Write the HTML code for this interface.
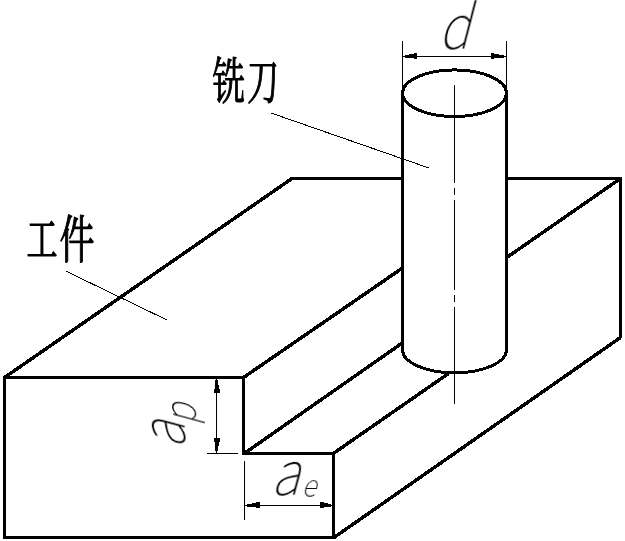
<!DOCTYPE html>
<html lang="zh-CN">
<head>
<meta charset="utf-8">
<title>铣刀 工件</title>
<style>
html,body{margin:0;padding:0;background:#fff;}
body{width:625px;height:541px;overflow:hidden;}
svg{display:block;}
.k{fill:none;stroke:#000;stroke-width:3;stroke-linecap:butt;stroke-linejoin:miter;shape-rendering:crispEdges;}
.d{stroke-width:3.5;}
.t{fill:none;stroke:#000;stroke-width:1;shape-rendering:crispEdges;}
.ar{fill:#000;stroke:none;shape-rendering:crispEdges;}
.cjk{font-family:"Liberation Serif","Noto Serif CJK SC","Noto Sans CJK SC",serif;font-weight:400;fill:#000;stroke:#000;stroke-width:1.2;stroke-linejoin:round;}
.lat{font-family:"Noto Sans CJK SC","DejaVu Sans Light","Liberation Sans",sans-serif;font-weight:100;fill:#000;}
</style>
</head>
<body>
<svg width="625" height="541" viewBox="0 0 625 541">
<rect width="625" height="541" fill="#fff"/>

<!-- workpiece -->
<g class="k d">
  <path d="M4.5 377.5 L292 178.5"/>
  <path d="M620.5 337.5 L334 537.5"/>
  <path d="M243.5 377.5 L402.5 268"/>
  <path d="M243.5 454 L402.5 342.8"/>
  <path d="M334 453 L448.5 373.5"/>
  <path d="M620.5 178.5 L506.5 257.7"/>
</g>
<g class="k">
  <path d="M243.5 377.5 H4.5 V537.5 H333.5 V453 H243.5 Z"/>
  <path d="M290.5 178.5 H402.5"/>
  <path d="M506.5 178.5 H620.5 V338"/>
</g>

<!-- cutter -->
<g class="k">
  <ellipse cx="454.5" cy="93.2" rx="52" ry="23.3"/>
  <path d="M402.5 93.2 V349.8 A52 23 0 0 0 506.5 349.8 V93.2"/>
</g>

<!-- centre line -->
<path class="t" d="M454.5 85 V182.5 M454.5 188 V195 M454.5 200 V290 M454.5 295 V302 M454.5 307 V404"/>

<!-- dimension d -->
<path class="t" d="M402.5 41 V92 M506.5 41 V92 M402 56.5 H507"/>
<path class="ar" d="M405 55H409V58H405Z M409 54H414V58H409Z M414 53H417V59H414Z M491 53H494V59H491Z M494 54H499V58H494Z M499 55H504V58H499Z"/>

<!-- dimension ap -->
<path class="t" d="M216.5 379 V454 M207 453.5 H238"/>
<path class="ar" d="M215 380H218V385H215Z M215 385H219V389H215Z M214 389H220V393H214Z M214 438H220V442H214Z M215 442H219V446H215Z M215 446H218V451H215Z"/>

<!-- dimension ae -->
<path class="t" d="M244.5 461 V520 M244 505.5 H333"/>
<path class="ar" d="M247 504H252V507H247Z M252 503H256V507H252Z M256 502H260V508H256Z M320 502H324V508H320Z M324 503H328V507H324Z M328 504H331V507H328Z"/>

<!-- leaders -->
<path class="t" d="M271 113 L429 168"/>
<path class="t" d="M66 271.2 L167 320"/>

<!-- labels -->
<g opacity="0.999">
<text class="cjk" transform="scale(0.66 1)"><tspan x="321.667" y="99.2" font-size="49.6">铣</tspan><tspan x="374.545" y="98.6" font-size="47.7">刀</tspan></text>
<text class="cjk" transform="scale(0.69 1)"><tspan x="38.551" y="255.8" font-size="45">工</tspan><tspan x="86.087" y="258" font-size="50.7">件</tspan></text>
<text class="lat" transform="translate(438.6 49) scale(0.85 1) skewX(-17.008)"><tspan x="0" y="0" font-size="61">d</tspan></text>
<text class="lat" transform="translate(184.2 448) rotate(-90) scale(0.825 1) skewX(-18.122)"><tspan x="0" y="0" font-size="60.6">a</tspan><tspan x="32.304" y="11.3" font-size="41.6">p</tspan></text>
<text class="lat" transform="translate(271.3 494.3) scale(0.868 1) skewX(-17.279)"><tspan x="0" y="0" font-size="60.6">a</tspan><tspan x="35.823" y="2.2" font-size="31.3">e</tspan></text>
</g>
</svg>
</body>
</html>
